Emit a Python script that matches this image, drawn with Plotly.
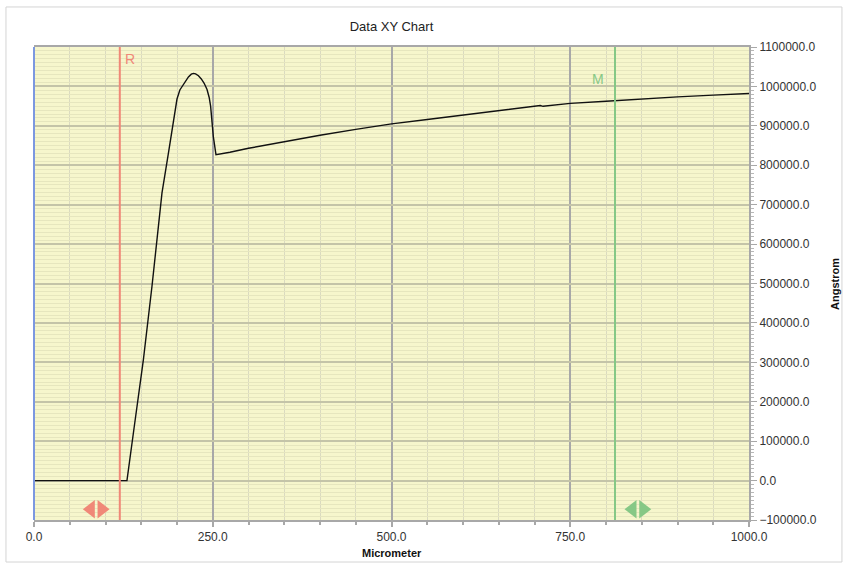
import plotly.graph_objects as go

# Profile trace: position (micrometer) vs height (angstrom)
x_um = [0, 130, 140, 153, 165, 179, 188, 195, 200, 204, 208, 212, 216, 220, 223,
        226, 230, 234, 238, 242, 245, 247, 248.5, 250.8, 254.5, 260, 274, 300,
        350, 400, 450, 500, 550, 600, 650, 700, 705, 708, 712, 750, 800, 812,
        850, 900, 950, 1000]
y_ang = [0, 0, 134000, 307000, 493000, 730000, 831000, 916000, 968000, 991000,
         1003000, 1014000, 1024000, 1031000, 1033000, 1032000, 1027000, 1019000,
         1008000, 992000, 972000, 950000, 920000, 873000, 827000, 828600, 833000,
         843000, 860000, 876000, 891000, 905000, 916000, 927000, 938000, 948000,
         949000, 951500, 949500, 957000, 962500, 964000, 968500, 973500, 978000,
         982000]

# Cursor positions
cursor_r = 120
cursor_m = 812.6

x_ticks = [0, 250, 500, 750, 1000]
y_ticks = list(range(-100000, 1100001, 100000))

FONT = "Arial, Liberation Sans, sans-serif"
RED = "#F08878"
GREEN = "#86C886"

fig = go.Figure()

fig.add_trace(go.Scatter(
    x=x_um, y=y_ang, mode="lines",
    line=dict(color="#111111", width=1.4),
    hoverinfo="skip", showlegend=False,
))

# Cursor handle arrows near the bottom of the plot
handle_y = -73000
for cx, col in [(cursor_r - 33, RED), (cursor_m + 32, GREEN)]:
    fig.add_trace(go.Scatter(
        x=[cx - 7.5, cx + 7.5], y=[handle_y, handle_y], mode="markers",
        marker=dict(symbol=["triangle-left", "triangle-right"], size=16,
                    color=col, line=dict(width=0)),
        hoverinfo="skip", showlegend=False,
    ))

shapes = [
    # outer frame
    dict(type="rect", xref="paper", yref="paper", x0=-0.0392, x1=1.13,
         y0=-0.0888, y1=1.0846, line=dict(color="#D4D4D4", width=1),
         layer="below"),
    # left border
    dict(type="line", xref="paper", yref="paper", x0=0, x1=0, y0=0, y1=1,
         line=dict(color="#7C98E0", width=2)),
    # cursors
    dict(type="line", xref="x", yref="paper", x0=cursor_r, x1=cursor_r,
         y0=0, y1=1, line=dict(color=RED, width=2)),
    dict(type="line", xref="x", yref="paper", x0=cursor_m, x1=cursor_m,
         y0=0, y1=1, line=dict(color=GREEN, width=2)),
]

annotations = [
    dict(text="R", x=cursor_r + 5, y=1070000, xref="x", yref="y",
         xanchor="left", yanchor="middle", showarrow=False,
         font=dict(family=FONT, size=14, color=RED)),
    dict(text="M", x=cursor_m - 13, y=1018000, xref="x", yref="y",
         xanchor="right", yanchor="middle", showarrow=False,
         font=dict(family=FONT, size=14, color=GREEN)),
    dict(text="<b>Micrometer</b>", x=0.5, y=-0.07, xref="paper", yref="paper",
         xanchor="center", yanchor="middle", showarrow=False,
         font=dict(family=FONT, size=11, color="#111111")),
    dict(text="<b>Angstrom</b>", x=1.1195, y=0.5, xref="paper", yref="paper",
         xanchor="center", yanchor="middle", textangle=-90, showarrow=False,
         font=dict(family=FONT, size=11, color="#111111")),
]

fig.update_layout(
    width=843, height=564,
    margin=dict(l=34, r=94, t=47, b=44),
    paper_bgcolor="white",
    plot_bgcolor="#F6F6CC",
    title=dict(text="Data XY Chart", x=0.4644, xanchor="center",
               y=1 - 26 / 564, yanchor="middle",
               font=dict(family=FONT, size=13, color="#222222")),
    shapes=shapes,
    annotations=annotations,
    showlegend=False,
)

fig.update_xaxes(
    range=[0, 1000], tickvals=x_ticks, tickformat=".1f",
    showgrid=True, gridcolor="#A8A8A8", gridwidth=1.5,
    ticks="outside", ticklen=5, tickcolor="#A8A8A8", tickwidth=1.5,
    showline=True, linecolor="#A8A8A8", linewidth=2, mirror=True,
    zeroline=False,
    tickfont=dict(family=FONT, size=12, color="#333333"),
    minor=dict(dtick=50, showgrid=True, gridcolor="#DADAC0", gridwidth=1,
               ticks="outside", ticklen=3, tickcolor="#A8A8A8"),
)

fig.update_yaxes(
    range=[-100000, 1100000], tickvals=y_ticks, tickformat=".1f",
    side="right",
    showgrid=True, gridcolor="#C4C4A8", gridwidth=1.5,
    ticks="outside", ticklen=6, tickcolor="#A8A8A8", tickwidth=1,
    showline=True, linecolor="#A8A8A8", linewidth=2,
    zeroline=False,
    tickfont=dict(family=FONT, size=12, color="#333333"),
    minor=dict(dtick=10000, showgrid=True, gridcolor="#E6E6BE", gridwidth=1,
               ticks="outside", ticklen=3, tickcolor="#B8B8B8"),
)

fig.write_html("out.html")
